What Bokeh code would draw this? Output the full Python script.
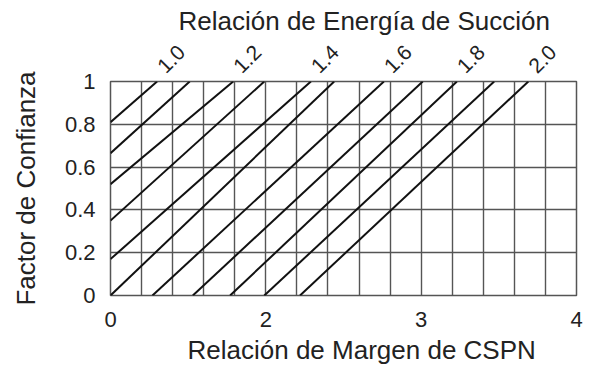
import math
from bokeh.plotting import figure
from bokeh.models import FixedTicker, ColumnDataSource, LinearAxis, Title
from bokeh.embed import file_html
from bokeh.resources import INLINE

# ---- data ----
suction_ratio = [1.0, 1.1, 1.2, 1.3, 1.4, 1.5, 1.6, 1.7, 1.8, 1.9, 2.0]
line_x_start = [1.0, 1.0, 1.0, 1.0, 1.0, 1.0, 1.27, 1.53, 1.77, 1.99, 2.22]
line_y_start = [0.81, 0.665, 0.52, 0.35, 0.17, 0.0, 0.0, 0.0, 0.0, 0.0, 0.0]
line_x_end = [1.30, 1.51, 1.79, 1.99, 2.29, 2.44, 2.76, 3.01, 3.23, 3.47, 3.69]
line_y_end = [1.0, 1.0, 1.0, 1.0, 1.0, 1.0, 1.0, 1.0, 1.0, 1.0, 1.0]
labeled_ratios = ["1.0", "1.2", "1.4", "1.6", "1.8", "2.0"]

x_ticks = [1, 2, 3, 4]
x_tick_labels = ["0", "2", "3", "4"]
y_ticks = [0, 0.2, 0.4, 0.6, 0.8, 1]
y_tick_labels = ["0", "0.2", "0.4", "0.6", "0.8", "1"]
x_grid_ticks = [1.0, 1.2, 1.4, 1.6, 1.8, 2.0, 2.2, 2.4, 2.6, 2.8, 3.0,
                3.2, 3.4, 3.6, 3.8, 4.0]
y_grid_ticks = [0, 0.2, 0.4, 0.6, 0.8, 1]

x_title = "Relación de Margen de CSPN"
y_title = "Factor de Confianza"
top_title = "Relación de Energía de Succión"

FONT = "Liberation Sans"
TXT = "#222222"
GRID = "#555555"

p = figure(width=583, height=367, x_range=(1, 4), y_range=(0, 1),
           output_backend="svg", toolbar_location=None,
           title=top_title,
           min_border_left=110, min_border_right=7,
           min_border_top=81, min_border_bottom=70)
p.background_fill_color = "white"
p.border_fill_color = "white"
p.outline_line_color = GRID
p.outline_line_width = 1.5

# grid
p.xgrid.ticker = FixedTicker(ticks=x_grid_ticks)
p.ygrid.ticker = FixedTicker(ticks=y_grid_ticks)
for g in (p.xgrid, p.ygrid):
    g.grid_line_color = GRID
    g.grid_line_width = 1.4
    g.grid_line_alpha = 1.0

# axes
xa = p.xaxis[0]
xa.ticker = FixedTicker(ticks=x_ticks)
xa.major_label_overrides = {t: l for t, l in zip(x_ticks, x_tick_labels)}
ya = p.yaxis[0]
ya.ticker = FixedTicker(ticks=y_ticks)
ya.major_label_overrides = {t: l for t, l in zip(y_ticks, y_tick_labels)}

# labels of the suction-energy lines as a top axis (slightly right of line ends)
LAB_SHIFT = 0.025
lab_pos = [line_x_end[i] + LAB_SHIFT for i, r in enumerate(suction_ratio)
           if f"{r:.1f}" in labeled_ratios]
lab_txt = [f"{r:.1f}" for r in suction_ratio if f"{r:.1f}" in labeled_ratios]
ta = LinearAxis(ticker=FixedTicker(ticks=lab_pos),
                major_label_overrides={t: l for t, l in zip(lab_pos, lab_txt)},
                major_label_orientation=math.pi / 4)
p.add_layout(ta, "above")

for ax in (xa, ya, ta):
    ax.axis_line_color = None
    ax.major_tick_line_color = None
    ax.minor_tick_line_color = None
    ax.major_tick_out = 0
    ax.major_tick_in = 0
    ax.major_label_text_font = FONT
    ax.major_label_text_font_size = "22px"
    ax.major_label_text_color = TXT
    ax.axis_label_text_font = FONT
    ax.axis_label_text_font_size = "26px"
    ax.axis_label_text_font_style = "normal"
    ax.axis_label_text_color = TXT
ta.major_label_text_font_size = "21px"
ta.major_label_standoff = 12
ya.axis_label = y_title
xa.major_label_standoff = 16
xa.major_label_text_line_height = 1.0
ya.major_label_standoff = 15
ya.axis_label_standoff = 21

# titles
p.title.align = "left"
p.title.offset = 68
p.title.text_font = FONT
p.title.text_font_size = "26px"
p.title.text_font_style = "normal"
p.title.text_color = TXT
p.title.standoff = 0

p.add_layout(Title(text=x_title, align="left", offset=77, text_font=FONT,
                   text_font_size="26px", text_font_style="normal",
                   text_color=TXT, text_line_height=1.0, standoff=6),
             "below")

# diagonal suction energy ratio lines
src = ColumnDataSource(dict(x0=line_x_start, y0=line_y_start,
                            x1=line_x_end, y1=line_y_end, r=suction_ratio))
p.segment(x0="x0", y0="y0", x1="x1", y1="y1", source=src,
          line_color="#111111", line_width=2)

open("out.html", "w").write(file_html(p, INLINE))
